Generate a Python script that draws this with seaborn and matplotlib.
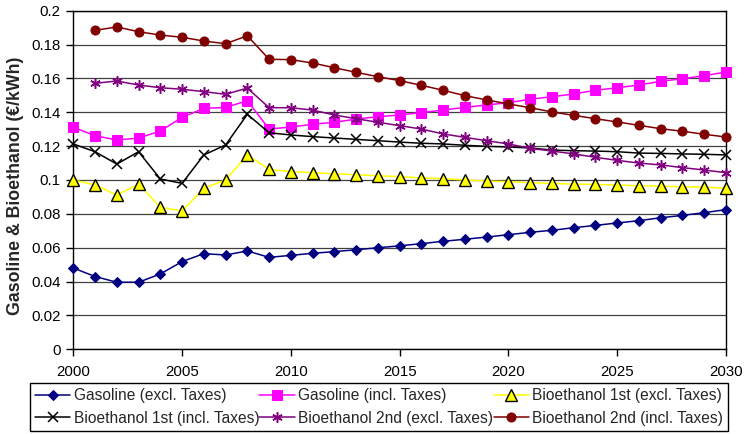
import numpy as np
import pandas as pd
import matplotlib
matplotlib.use("Agg")
import matplotlib.pyplot as plt
from matplotlib.ticker import FuncFormatter, MultipleLocator
import seaborn as sns

nan = np.nan
years = list(range(2000, 2031))

gasoline_excl = [0.048, 0.043, 0.0396, 0.0396, 0.0445, 0.0518, 0.0565, 0.0557, 0.0581, 0.0543,
                 0.0555, 0.0567, 0.0577, 0.0588, 0.0600, 0.0611, 0.0624, 0.0638, 0.0650, 0.0663,
                 0.0677, 0.0691, 0.0703, 0.0718, 0.0732, 0.0746, 0.0760, 0.0777, 0.0791, 0.0807, 0.0825]
gasoline_incl = [0.1311, 0.1262, 0.1236, 0.1248, 0.1289, 0.1370, 0.1423, 0.1429, 0.1468, 0.1301,
                 0.1313, 0.1329, 0.1341, 0.1360, 0.1374, 0.1384, 0.1398, 0.1413, 0.1429, 0.1443,
                 0.1457, 0.1477, 0.1492, 0.1508, 0.1530, 0.1545, 0.1561, 0.1583, 0.1598, 0.1616, 0.1638]
bio1_excl = [0.1000, 0.0971, 0.0911, 0.0975, 0.0839, 0.0817, 0.0951, 0.1000, 0.1148, 0.1063,
             0.1049, 0.1043, 0.1037, 0.1031, 0.1025, 0.1020, 0.1012, 0.1008, 0.1000, 0.0994,
             0.0990, 0.0984, 0.0980, 0.0976, 0.0974, 0.0970, 0.0966, 0.0964, 0.0960, 0.0958, 0.0951]
bio1_incl = [0.1213, 0.1167, 0.1094, 0.1167, 0.1006, 0.0980, 0.1148, 0.1207, 0.1388, 0.1279,
             0.1266, 0.1256, 0.1248, 0.1240, 0.1232, 0.1224, 0.1217, 0.1213, 0.1205, 0.1199,
             0.1195, 0.1189, 0.1177, 0.1173, 0.1171, 0.1167, 0.1159, 0.1157, 0.1154, 0.1152, 0.1148]
bio2_excl = [nan, 0.1571, 0.1585, 0.1561, 0.1545, 0.1536, 0.1522, 0.1506, 0.1543, 0.1427,
             0.1427, 0.1413, 0.1384, 0.1362, 0.1341, 0.1321, 0.1301, 0.1272, 0.1252, 0.1232,
             0.1213, 0.1187, 0.1171, 0.1154, 0.1134, 0.1116, 0.1100, 0.1089, 0.1073, 0.1059, 0.1043]
bio2_incl = [nan, 0.1884, 0.1904, 0.1876, 0.1856, 0.1843, 0.1821, 0.1805, 0.1852, 0.1713,
             0.1711, 0.1691, 0.1663, 0.1636, 0.1610, 0.1587, 0.1559, 0.1530, 0.1498, 0.1473,
             0.1449, 0.1427, 0.1402, 0.1382, 0.1362, 0.1343, 0.1323, 0.1303, 0.1288, 0.1270, 0.1254]

labels = ["Gasoline (excl. Taxes)", "Gasoline (incl. Taxes)", "Bioethanol 1st (excl. Taxes)",
          "Bioethanol 1st (incl. Taxes)", "Bioethanol 2nd (excl. Taxes)", "Bioethanol 2nd (incl. Taxes)"]
series = [gasoline_excl, gasoline_incl, bio1_excl, bio1_incl, bio2_excl, bio2_incl]

styles = [
    dict(color="#000080", marker="D", markersize=5.5, mfc="#000080", mec="#000080"),
    dict(color="#FF00FF", marker="s", markersize=6.5, mfc="#FF00FF", mec="#FF00FF"),
    dict(color="#FFFF00", marker="^", markersize=8, mfc="#FFFF00", mec="black", mew=1.0),
    dict(color="black", marker="x", markersize=6.5, mfc="none", mec="black", mew=1.1),
    dict(color="#800080", marker=(6, 2, 0), markersize=7.5, mfc="none", mec="#800080", mew=1.1),
    dict(color="#800000", marker="o", markersize=6.5, mfc="#800000", mec="#800000"),
]

sns.set_theme(style="white")
plt.rcParams["font.family"] = ["Liberation Sans", "DejaVu Sans"]

fig = plt.figure(figsize=(7.45, 4.34), dpi=100)
ax = fig.add_axes([73.3 / 745, (434 - 349.3) / 434, (726 - 73.3) / 745, (349.3 - 10.7) / 434])

for vals, lab, st in zip(series, labels, styles):
    df = pd.DataFrame({"Year": years, "Value": vals})
    sns.lineplot(data=df, x="Year", y="Value", ax=ax, label=lab, linewidth=1.1,
                 clip_on=False, zorder=3, **st)

ax.set_xlim(2000, 2030)
ax.set_ylim(0, 0.2)
ax.xaxis.set_major_locator(MultipleLocator(5))
ax.yaxis.set_major_locator(MultipleLocator(0.02))
ax.yaxis.set_major_formatter(FuncFormatter(lambda v, p: f"{round(v, 4):g}"))
ax.grid(axis="y", color="#404040", linewidth=0.9)
ax.set_axisbelow(True)
for s in ax.spines.values():
    s.set_color("black")
    s.set_linewidth(1.0)
ax.tick_params(axis="both", which="major", direction="out", length=5, width=1,
               color="black", labelsize=10.8, labelcolor="black", pad=4,
               bottom=True, left=True)
ax.tick_params(axis="x", pad=6)
ax.set_xlabel("")
ax.set_ylabel("Gasoline & Bioethanol (€/kWh)", fontsize=12.8, fontweight="bold")
ax.yaxis.set_label_coords(-0.0755, 0.483)

ax.legend_.remove()
handles, labs = ax.get_legend_handles_labels()
# legend fills column by column; order entries so they read across rows
order = [0, 3, 1, 4, 2, 5]
leg = fig.legend([handles[i] for i in order], [labs[i] for i in order], ncol=3,
                 loc="center", mode="expand",
                 bbox_to_anchor=(30 / 745, 2 / 434, 698 / 745, 50 / 434),
                 bbox_transform=fig.transFigure, fontsize=11.2, frameon=True,
                 fancybox=False, shadow=False, edgecolor="black", framealpha=1,
                 handlelength=2.3, handletextpad=0.2, labelspacing=0.5,
                 borderpad=0.3, borderaxespad=0, columnspacing=0.8)
leg.get_frame().set_linewidth(1.0)

fig.savefig("out.png", dpi=100)
